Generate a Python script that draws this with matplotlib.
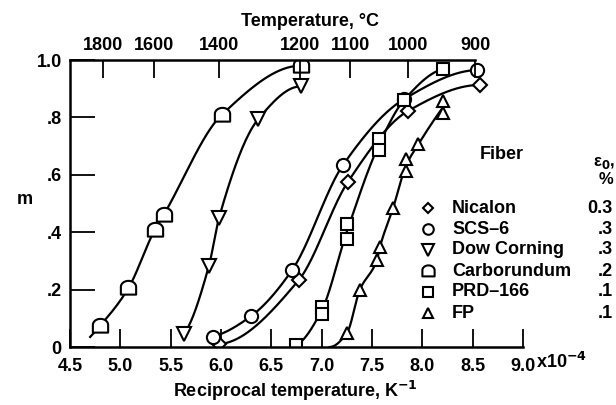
import matplotlib.pyplot as plt
import numpy as np
from matplotlib.path import Path
from matplotlib.lines import Line2D

plt.rcParams['font.family'] = ['Liberation Sans', 'DejaVu Sans']
plt.rcParams['font.weight'] = 'bold'
plt.rcParams['font.size'] = 13

# reciprocal temperature (x10^-4 1/K) and m
nicalon_x = [5.98, 6.77, 7.26, 7.86, 8.57]
nicalon_m = [0.01, 0.232, 0.575, 0.823, 0.913]
scs6_x = [5.92, 6.30, 6.71, 7.21, 7.82, 8.54]
scs6_m = [0.036, 0.108, 0.27, 0.633, 0.864, 0.965]
dow_x = [5.63, 5.88, 5.98, 6.37, 6.79]
dow_m = [0.045, 0.283, 0.45, 0.794, 0.908]
carb_x = [4.80, 5.08, 5.34, 5.43, 6.01, 6.79]
carb_m = [0.074, 0.205, 0.407, 0.46, 0.81, 0.98]
prd_x = [6.75, 7.0, 7.0, 7.25, 7.25, 7.57, 7.57, 7.82, 8.21]
prd_m = [0.007, 0.14, 0.115, 0.377, 0.427, 0.724, 0.686, 0.861, 0.968]
fp_x = [7.25, 7.38, 7.55, 7.58, 7.71, 7.84, 7.84, 7.96, 8.21, 8.21]
fp_m = [0.048, 0.2, 0.304, 0.35, 0.485, 0.613, 0.654, 0.706, 0.817, 0.858]

# where the hand-drawn curves begin below their first point
carb_curve_start = (4.70, 0.035)
fp_curve_start = (7.08, 0.0)

fibers = ['Nicalon', 'SCS\u20136', 'Dow Corning', 'Carborundum', 'PRD\u2013166', 'FP']
eps0 = ['0.3', '.3', '.3', '.2', '.1', '.1']
temps_c = [1800, 1600, 1400, 1200, 1100, 1000, 900]


def pchip(x, y, xs):
    # monotone cubic through the (averaged) points
    x = np.asarray(x, float)
    y = np.asarray(y, float)
    ux = np.unique(x)
    uy = np.array([y[x == v].mean() for v in ux])
    h = np.diff(ux)
    d = np.diff(uy) / h
    n = len(ux)
    m = np.zeros(n)
    for k in range(1, n - 1):
        if d[k - 1] * d[k] > 0:
            w1 = 2 * h[k] + h[k - 1]
            w2 = h[k] + 2 * h[k - 1]
            m[k] = (w1 + w2) / (w1 / d[k - 1] + w2 / d[k])
    m[0] = max(((2 * h[0] + h[1]) * d[0] - h[0] * d[1]) / (h[0] + h[1]), 0) if n > 2 else d[0]
    m[-1] = max(((2 * h[-1] + h[-2]) * d[-1] - h[-1] * d[-2]) / (h[-1] + h[-2]), 0) if n > 2 else d[-1]
    i = np.clip(np.searchsorted(ux, xs) - 1, 0, n - 2)
    t = (xs - ux[i]) / h[i]
    h00 = 2 * t**3 - 3 * t**2 + 1
    h10 = t**3 - 2 * t**2 + t
    h01 = -2 * t**3 + 3 * t**2
    h11 = t**3 - t**2
    return h00 * uy[i] + h10 * h[i] * m[i] + h01 * uy[i + 1] + h11 * h[i] * m[i + 1]


# dome marker (rounded top, flat bottom) for Carborundum
th = np.linspace(0, np.pi, 25)
dome = np.vstack([np.c_[np.cos(th), 0.2 + 0.8 * np.sin(th)], [[-1, -0.8], [1, -0.8], [1, 0.2]]])
dome_marker = Path(dome, closed=True)

series = [
    (nicalon_x, nicalon_m, None, 'D', 7),
    (scs6_x, scs6_m, None, 'o', 9.5),
    (dow_x, dow_m, None, 'v', 10),
    (carb_x, carb_m, carb_curve_start, dome_marker, 11),
    (prd_x, prd_m, None, 's', 9),
    (fp_x, fp_m, fp_curve_start, '^', 9),
]

fig = plt.figure(figsize=(6.16, 4.05), dpi=100)
ax = fig.add_axes([70 / 616, 1 - 347 / 405, 453 / 616, 287 / 405])

for x, m, start, mk, ms in series:
    cx, cm = list(x), list(m)
    if start is not None:
        cx = [start[0]] + cx
        cm = [start[1]] + cm
    xs = np.linspace(min(cx), max(cx), 300)
    ax.plot(xs, pchip(cx, cm, xs), 'k-', lw=1.6)
    ax.plot(x, m, linestyle='none', marker=mk, ms=ms, mfc='white', mec='black', mew=1.5)

ax.set_xlim(4.5, 9.0)
ax.set_ylim(0, 1.0)
ax.set_xticks(np.arange(4.5, 9.01, 0.5))
ax.set_xticklabels(['4.5', '5.0', '5.5', '6.0', '6.5', '7.0', '7.5', '8.0', '8.5', '9.0'])
ax.set_yticks([0, 0.2, 0.4, 0.6, 0.8, 1.0])
ax.set_yticklabels(['0', '.2', '.4', '.6', '.8', '1.0'])
ax.tick_params(axis='x', direction='in', length=13, width=1.3, pad=8)
ax.tick_params(axis='y', direction='in', length=18, width=1.3, pad=6)
for s in ['left', 'bottom']:
    ax.spines[s].set_linewidth(1.8)
ax.spines['right'].set_visible(False)

# top axis: temperature in deg C
top = 1e4 / (np.array(temps_c) + 273.15)
ax.spines['top'].set_bounds(4.5, top.max())
ax.spines['top'].set_linewidth(1.8)
ax2 = ax.twiny()
ax2.set_xlim(ax.get_xlim())
ax2.set_xticks(top)
ax2.set_xticklabels([str(t) for t in temps_c])
ax2.tick_params(axis='x', direction='in', length=13, width=1.3, pad=4)
for s in ax2.spines.values():
    s.set_visible(False)

fig.text(536 / 616, 1 - 362 / 405, 'x10$^{\\mathbf{-4}}$', ha='left', va='center', fontsize=13)
fig.text(310 / 616, 1 - 21 / 405, 'Temperature, \u00b0C', ha='center', va='center', fontsize=13)
fig.text(295 / 616, 1 - 391 / 405, 'Reciprocal temperature, K$^{\\mathbf{-1}}$', ha='center', va='center', fontsize=13)
fig.text(25 / 616, 1 - 200 / 405, 'm', ha='center', va='center', fontsize=13)

# legend table
fig.text(502 / 616, 1 - 155 / 405, 'Fiber', ha='center', va='center', fontsize=13)
fig.text(615 / 616, 1 - 163 / 405, '\u03b5$_{\\mathbf{0}}$,', ha='right', va='center', fontsize=12)
fig.text(613 / 616, 1 - 180 / 405, '%', ha='right', va='center', fontsize=12)
for i, (name, e, s) in enumerate(zip(fibers, eps0, series)):
    yy = 1 - (208 + 21 * i) / 405
    fig.add_artist(Line2D([428 / 616], [yy], marker=s[3], ms=s[4] * 0.8, mfc='white',
                          mec='black', mew=1.5, linestyle='none'))
    fig.text(452 / 616, yy, name, ha='left', va='center', fontsize=13)
    fig.text(613 / 616, yy, e, ha='right', va='center', fontsize=13)

fig.savefig('out.png', dpi=100)
